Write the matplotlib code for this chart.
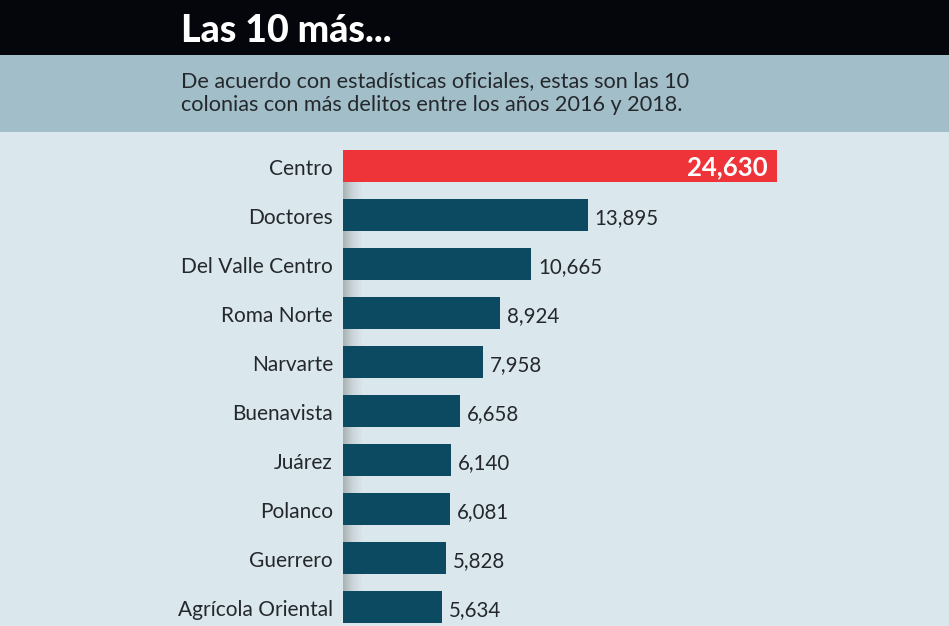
import matplotlib
matplotlib.use("Agg")
import matplotlib.pyplot as plt
import numpy as np
from matplotlib.colors import LinearSegmentedColormap

categories = ["Centro", "Doctores", "Del Valle Centro", "Roma Norte", "Narvarte",
              "Buenavista", "Juárez", "Polanco", "Guerrero", "Agrícola Oriental"]
values = [24630, 13895, 10665, 8924, 7958, 6658, 6140, 6081, 5828, 5634]
value_labels = ["24,630", "13,895", "10,665", "8,924", "7,958",
                "6,658", "6,140", "6,081", "5,828", "5,634"]
title = "Las 10 más..."
subtitle = ("De acuerdo con estadísticas oficiales, estas son las 10\n"
            "colonias con más delitos entre los años 2016 y 2018.")

W, H = 949, 626
BG = "#dae7ec"
BAND = "#a2bfc9"
TOP = "#05060b"
RED = "#ee3339"
TEAL = "#0b4a60"
TXT = "#24282c"

plt.rcParams['font.family'] = ['Lato', 'DejaVu Sans']
fig = plt.figure(figsize=(W / 100, H / 100), dpi=100)
fig.patch.set_facecolor(BG)

# header bands
fig.add_artist(plt.Rectangle((0, 1 - 55 / H), 1, 55 / H, transform=fig.transFigure,
                             facecolor=TOP, edgecolor="none"))
fig.add_artist(plt.Rectangle((0, 1 - 132 / H), 1, 77 / H, transform=fig.transFigure,
                             facecolor=BAND, edgecolor="none"))
fig.text(181 / W, 1 - 31 / H, title, color="white", fontsize=27, fontweight="black",
         va="center", ha="left")
fig.text(181 / W, 1 - 93 / H, subtitle, color=TXT, fontsize=15.6,
         va="center", ha="left", linespacing=1.25)

# axes
ax_left = 343 / W
ax_top = 141.5
ax_bottom = 626
ax = fig.add_axes([ax_left, 0, 1 - ax_left, (ax_bottom - ax_top) / H])
ax.set_facecolor("none")
px_per_unit = 434 / 24630
xmax = (W - 343) / px_per_unit
ymax = -0.5 + (ax_bottom - ax_top) / 49
for s in ax.spines.values():
    s.set_visible(False)
ax.set_xticks([])
ax.set_yticks([])

y = np.arange(len(categories))
colors = [RED] + [TEAL] * (len(categories) - 1)
bh = 0.67
ax.barh(y, values, height=bh, color=colors, zorder=3)

# subtle shadow gradient in gaps near the axis
grad = np.linspace(0, 1, 100).reshape(1, -1)
cmap = LinearSegmentedColormap.from_list("sh", ["#aab1b4", "#ccd6da", BG])
for i in range(len(categories) - 1):
    ax.imshow(grad, cmap=cmap, aspect="auto", interpolation="bilinear",
              extent=(0, 1100, i + 1 - bh / 2, i + bh / 2), zorder=1)
ax.set_xlim(0, xmax)
ax.set_ylim(ymax, -0.5)

dy = 3 / 49
for i, (cat, v, lab) in enumerate(zip(categories, values, value_labels)):
    ax.text(-10 / px_per_unit, i + dy, cat, ha="right", va="center", fontsize=15,
            color=TXT)
    if i == 0:
        ax.text(v - 9 / px_per_unit, i + dy / 2, lab, ha="right", va="center",
                fontsize=18.5, color="white", fontweight="bold", zorder=4)
    else:
        ax.text(v + 7 / px_per_unit, i + dy, lab, ha="left", va="center", fontsize=14.8,
                color=TXT, zorder=4)

fig.savefig("out.png", dpi=100, facecolor=BG)
